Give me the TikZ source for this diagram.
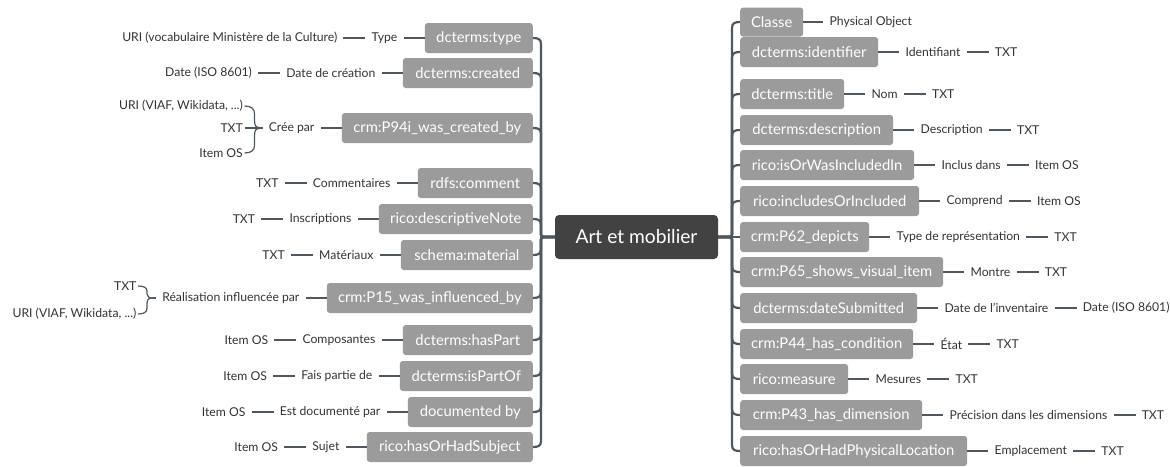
\documentclass[tikz,border=0pt]{standalone}
\usepackage{fontspec}
\setmainfont{Lato}
\usetikzlibrary{positioning,calc}
\definecolor{boxgray}{RGB}{155,155,155}
\definecolor{hubgray}{RGB}{66,66,66}
\definecolor{linkgray}{RGB}{78,88,94}
\definecolor{labelgray}{RGB}{51,51,51}
\tikzset{
  attr/.style={fill=boxgray, text=white, rounded corners=3pt, minimum height=30pt,
    inner xsep=0pt, inner ysep=0pt, font=\fontsize{14.8}{17}\selectfont},
  lbl/.style={text=labelgray, inner xsep=6pt, inner ysep=1pt, font=\fontsize{12.2}{14}\selectfont},
  leaf/.style={lbl, inner xsep=1.5pt},
  conn/.style={draw=linkgray, line width=1.2pt},
  trunk/.style={draw=linkgray, line width=2.2pt, line join=round},
}
% branch from the central topic to a property box on the left / right
\newcommand\lbranch[2]{%
  \pgfmathsetmacro\sg{sign(237-#2)}%
  \pgfmathsetmacro\ya{237-5*\sg}%
  \pgfmathsetmacro\yb{#2+6*\sg}%
  \pgfmathsetmacro\yc{#2+1*\sg}%
  \draw[trunk] (hub.west) -- (546,237) .. controls (541,237) .. (541,\ya) -- (541,\yb)
    .. controls (541,\yc) and (538,#2) .. (#1.east);}
\newcommand\rbranch[2]{%
  \pgfmathsetmacro\sg{sign(237-#2)}%
  \pgfmathsetmacro\ya{237-5*\sg}%
  \pgfmathsetmacro\yb{#2+6*\sg}%
  \pgfmathsetmacro\yc{#2+1*\sg}%
  \draw[trunk] (hub.east) -- (727,237) .. controls (732,237) .. (732,\ya) -- (732,\yb)
    .. controls (732,\yc) and (735,#2) .. (#1.west);}
\begin{document}
\begin{tikzpicture}[x=1pt,y=-1pt]
\useasboundingbox (0,0) rectangle (1170,466);

\node[fill=hubgray, text=white, rounded corners=4pt, minimum width=163pt, minimum height=44pt,
  inner sep=0pt, font=\fontsize{19.2}{23}\selectfont] (hub) at (636.5,237) {Art et mobilier};

% ---------------- left side ----------------
\node[attr, minimum width=108pt, anchor=east] (L1) at (533,38) {dcterms:type};
\node[lbl, left=21pt of L1] (L1a) {Type};
\node[lbl, left=22pt of L1a] (L1b) {URI (vocabulaire Ministère de la Culture)};
\draw[conn] (L1.west) -- (L1a.east) (L1a.west) -- (L1b.east);

\node[attr, minimum width=130pt, anchor=east] (L2) at (533,73) {dcterms:created};
\node[lbl, left=21pt of L2] (L2a) {Date de création};
\node[lbl, left=22pt of L2a] (L2b) {Date (ISO 8601)};
\draw[conn] (L2.west) -- (L2a.east) (L2a.west) -- (L2b.east);

\node[attr, minimum width=191pt, anchor=east] (L3) at (533,128) {crm:P94i\_was\_created\_by};
\node[lbl, left=21pt of L3] (L3a) {Crée par};
\coordinate (J3) at ([xshift=-3pt]L3a.west);
\node[leaf, anchor=east] (L3b) at ([xshift=-15pt,yshift=22pt]J3) {URI (VIAF, Wikidata, ...)};
\node[leaf, anchor=east] (L3c) at ([xshift=-15pt]J3) {TXT};
\node[leaf, anchor=east] (L3d) at ([xshift=-15pt,yshift=-25pt]J3) {Item OS};
\draw[conn] (L3.west) -- (L3a.east) (J3) -- (L3a.west) (L3c.east) -- (J3);
\draw[conn] let \p1=(L3b.east), \p2=(J3) in (\p1) .. controls (\x1+7pt,\y1) and (\x1+10pt,\y1-3pt) .. (\x1+10pt,\y1-8pt)
  -- (\x1+10pt,\y2+7pt) .. controls (\x1+10pt,\y2+2pt) and (\x1+12pt,\y2) .. (\p2);
\draw[conn] let \p1=(L3d.east), \p2=(J3) in (\p1) .. controls (\x1+7pt,\y1) and (\x1+10pt,\y1+3pt) .. (\x1+10pt,\y1+8pt)
  -- (\x1+10pt,\y2-7pt) .. controls (\x1+10pt,\y2-2pt) and (\x1+12pt,\y2) .. (\p2);

\node[attr, minimum width=115pt, anchor=east] (L4) at (533,183) {rdfs:comment};
\node[lbl, left=21pt of L4] (L4a) {Commentaires};
\node[lbl, left=22pt of L4a] (L4b) {TXT};
\draw[conn] (L4.west) -- (L4a.east) (L4a.west) -- (L4b.east);

\node[attr, minimum width=154pt, anchor=east] (L5) at (533,219) {rico:descriptiveNote};
\node[lbl, left=21pt of L5] (L5a) {Inscriptions};
\node[lbl, left=22pt of L5a] (L5b) {TXT};
\draw[conn] (L5.west) -- (L5a.east) (L5a.west) -- (L5b.east);

\node[attr, minimum width=132pt, anchor=east] (L6) at (533,255) {schema:material};
\node[lbl, left=21pt of L6] (L6a) {Matériaux};
\node[lbl, left=22pt of L6a] (L6b) {TXT};
\draw[conn] (L6.west) -- (L6a.east) (L6a.west) -- (L6b.east);

\node[attr, minimum width=206pt, anchor=east] (L7) at (533,298) {crm:P15\_was\_influenced\_by};
\node[lbl, left=21pt of L7] (L7a) {Réalisation influencée par};
\coordinate (J7) at ([xshift=-3pt]L7a.west);
\node[leaf, anchor=east] (L7b) at ([xshift=-15pt,yshift=12pt]J7) {TXT};
\node[leaf, anchor=east] (L7c) at ([xshift=-15pt,yshift=-16pt]J7) {URI (VIAF, Wikidata, ...)};
\draw[conn] (L7.west) -- (L7a.east) (J7) -- (L7a.west);
\draw[conn] let \p1=(L7b.east), \p2=(J7) in (\p1) .. controls (\x1+6pt,\y1) and (\x1+9pt,\y1-2pt) .. (\x1+9pt,\y1-5pt)
  -- (\x1+9pt,\y2+4pt) .. controls (\x1+9pt,\y2+1pt) and (\x1+11pt,\y2) .. (\p2);
\draw[conn] let \p1=(L7c.east), \p2=(J7) in (\p1) .. controls (\x1+6pt,\y1) and (\x1+9pt,\y1+2pt) .. (\x1+9pt,\y1+6pt)
  -- (\x1+9pt,\y2-5pt) .. controls (\x1+9pt,\y2-1pt) and (\x1+11pt,\y2) .. (\p2);

\node[attr, minimum width=130pt, anchor=east] (L8) at (533,340) {dcterms:hasPart};
\node[lbl, left=21pt of L8] (L8a) {Composantes};
\node[lbl, left=22pt of L8a] (L8b) {Item OS};
\draw[conn] (L8.west) -- (L8a.east) (L8a.west) -- (L8b.east);

\node[attr, minimum width=133pt, anchor=east] (L9) at (533,376) {dcterms:isPartOf};
\node[lbl, left=21pt of L9] (L9a) {Fais partie de};
\node[lbl, left=22pt of L9a] (L9b) {Item OS};
\draw[conn] (L9.west) -- (L9a.east) (L9a.west) -- (L9b.east);

\node[attr, minimum width=125pt, anchor=east] (L10) at (533,412) {documented by};
\node[lbl, left=21pt of L10] (L10a) {Est documenté par};
\node[lbl, left=22pt of L10a] (L10b) {Item OS};
\draw[conn] (L10.west) -- (L10a.east) (L10a.west) -- (L10b.east);

\node[attr, minimum width=166pt, anchor=east] (L11) at (533,447) {rico:hasOrHadSubject};
\node[lbl, left=21pt of L11] (L11a) {Sujet};
\node[lbl, left=22pt of L11a] (L11b) {Item OS};
\draw[conn] (L11.west) -- (L11a.east) (L11a.west) -- (L11b.east);

\lbranch{L1}{38}\lbranch{L2}{73}\lbranch{L3}{128}\lbranch{L4}{183}
\lbranch{L5}{219}\lbranch{L6}{255}\lbranch{L7}{298}\lbranch{L8}{340}
\lbranch{L9}{376}\lbranch{L10}{412}\lbranch{L11}{447}

% ---------------- right side ----------------
\node[attr, minimum width=63pt, minimum height=29pt, anchor=west] (R1) at (740,22) {Classe};
\node[lbl, right=20pt of R1] (R1a) {Physical Object};
\draw[conn] (R1.east) -- (R1a.west);

\node[attr, minimum width=138pt, anchor=west] (R2) at (740,52) {dcterms:identifier};
\node[lbl, right=21pt of R2] (R2a) {Identifiant};
\node[lbl, right=22pt of R2a] (R2b) {TXT};
\draw[conn] (R2.east) -- (R2a.west) (R2a.east) -- (R2b.west);

\node[attr, minimum width=104pt, anchor=west] (R3) at (740,94) {dcterms:title};
\node[lbl, right=21pt of R3] (R3a) {Nom};
\node[lbl, right=22pt of R3a] (R3b) {TXT};
\draw[conn] (R3.east) -- (R3a.west) (R3a.east) -- (R3b.west);

\node[attr, minimum width=153pt, anchor=west] (R4) at (740,130) {dcterms:description};
\node[lbl, right=21pt of R4] (R4a) {Description};
\node[lbl, right=22pt of R4a] (R4b) {TXT};
\draw[conn] (R4.east) -- (R4a.west) (R4a.east) -- (R4b.west);

\node[attr, minimum width=174pt, anchor=west] (R5) at (740,165) {rico:isOrWasIncludedIn};
\node[lbl, right=21pt of R5] (R5a) {Inclus dans};
\node[lbl, right=22pt of R5a] (R5b) {Item OS};
\draw[conn] (R5.east) -- (R5a.west) (R5a.east) -- (R5b.west);

\node[attr, minimum width=179pt, anchor=west] (R6) at (740,201) {rico:includesOrIncluded};
\node[lbl, right=21pt of R6] (R6a) {Comprend};
\node[lbl, right=22pt of R6a] (R6b) {Item OS};
\draw[conn] (R6.east) -- (R6a.west) (R6a.east) -- (R6b.west);

\node[attr, minimum width=129pt, anchor=west] (R7) at (740,237) {crm:P62\_depicts};
\node[lbl, right=21pt of R7] (R7a) {Type de représentation};
\node[lbl, right=22pt of R7a] (R7b) {TXT};
\draw[conn] (R7.east) -- (R7a.west) (R7a.east) -- (R7b.west);

\node[attr, minimum width=203pt, anchor=west] (R8) at (740,272) {crm:P65\_shows\_visual\_item};
\node[lbl, right=21pt of R8] (R8a) {Montre};
\node[lbl, right=22pt of R8a] (R8b) {TXT};
\draw[conn] (R8.east) -- (R8a.west) (R8a.east) -- (R8b.west);

\node[attr, minimum width=177pt, anchor=west] (R9) at (740,308) {dcterms:dateSubmitted};
\node[lbl, right=21pt of R9] (R9a) {Date de l'inventaire};
\node[lbl, right=22pt of R9a] (R9b) {Date (ISO 8601)};
\draw[conn] (R9.east) -- (R9a.west) (R9a.east) -- (R9b.west);

\node[attr, minimum width=173pt, anchor=west] (R10) at (740,344) {crm:P44\_has\_condition};
\node[lbl, right=21pt of R10] (R10a) {État};
\node[lbl, right=22pt of R10a] (R10b) {TXT};
\draw[conn] (R10.east) -- (R10a.west) (R10a.east) -- (R10b.west);

\node[attr, minimum width=108pt, anchor=west] (R11) at (740,379) {rico:measure};
\node[lbl, right=21pt of R11] (R11a) {Mesures};
\node[lbl, right=22pt of R11a] (R11b) {TXT};
\draw[conn] (R11.east) -- (R11a.west) (R11a.east) -- (R11b.west);

\node[attr, minimum width=182pt, anchor=west] (R12) at (740,415) {crm:P43\_has\_dimension};
\node[lbl, right=21pt of R12] (R12a) {Précision dans les dimensions};
\node[lbl, right=22pt of R12a] (R12b) {TXT};
\draw[conn] (R12.east) -- (R12a.west) (R12a.east) -- (R12b.west);

\node[attr, minimum width=227pt, anchor=west] (R13) at (740,451) {rico:hasOrHadPhysicalLocation};
\node[lbl, right=21pt of R13] (R13a) {Emplacement};
\node[lbl, right=22pt of R13a] (R13b) {TXT};
\draw[conn] (R13.east) -- (R13a.west) (R13a.east) -- (R13b.west);

\rbranch{R1}{22}\rbranch{R2}{52}\rbranch{R3}{94}\rbranch{R4}{130}\rbranch{R5}{165}
\rbranch{R6}{201}\rbranch{R7}{237}\rbranch{R8}{272}\rbranch{R9}{308}\rbranch{R10}{344}
\rbranch{R11}{379}\rbranch{R12}{415}\rbranch{R13}{451}
\end{tikzpicture}
\end{document}
